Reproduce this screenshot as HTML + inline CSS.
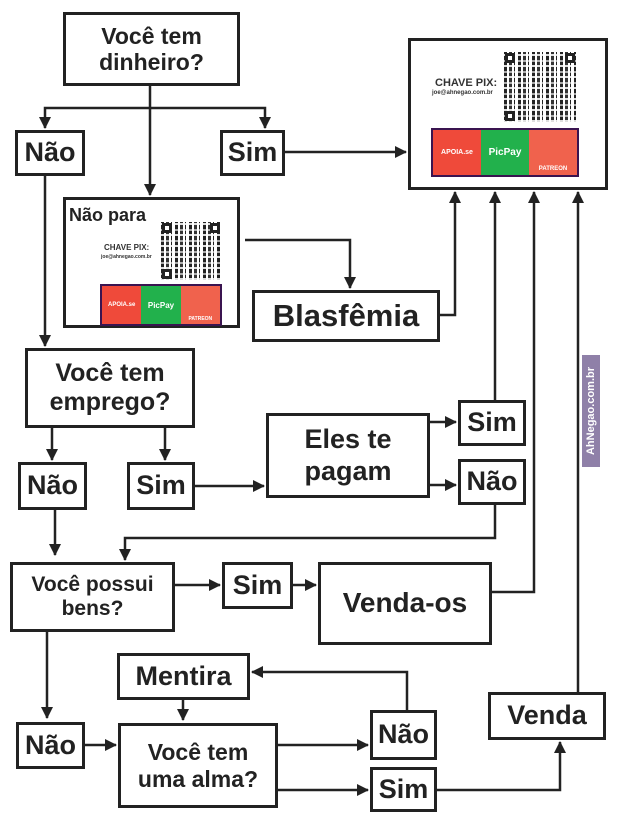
<!DOCTYPE html>
<html><head><meta charset="utf-8"><style>
body{margin:0;width:620px;height:822px;background:#fff;position:relative;overflow:hidden;font-family:"Liberation Sans",Arial,sans-serif;}
.b{position:absolute;border:3px solid #222;box-sizing:border-box;display:flex;align-items:center;justify-content:center;text-align:center;font-weight:bold;color:#222;line-height:1.15;}
svg{position:absolute;left:0;top:0;}
.pay{position:absolute;display:flex;border:2px solid #3a1450;box-sizing:border-box;}
.pay div{flex:1;display:flex;align-items:center;justify-content:center;color:#fff;font-weight:bold;}
.qr{position:absolute;background:
repeating-linear-gradient(0deg,rgba(255,255,255,.85) 0 2px,transparent 2px 5px,rgba(255,255,255,.6) 5px 7px,transparent 7px 11px),
repeating-linear-gradient(90deg,#222 0 3px,#fff 3px 5px,#333 5px 8px,#fff 8px 10px,#222 10px 11px,#fff 11px 14px);}
.qr i{position:absolute;width:10px;height:10px;border:3px solid #222;background:#fff;box-sizing:border-box;}
</style></head><body>
<svg width="620" height="822">
<defs><marker id="m" markerWidth="12" markerHeight="12" refX="11" refY="6" orient="auto" markerUnits="userSpaceOnUse"><path d="M0,0L12,6L0,12z" fill="#222"/></marker></defs>
<g stroke="#222" stroke-width="2.5" fill="none" marker-end="url(#m)">
<path d="M150 86V108H45V128"/><path d="M150 108H265V128"/><path d="M150 108V195"/>
<path d="M285 152H406"/>
<path d="M245 240H350V288"/>
<path d="M440 315H455V192"/>
<path d="M495 400V192"/>
<path d="M492 592H534V192"/>
<path d="M578 692V192"/>
<path d="M45 176V346"/>
<path d="M52 428V460"/><path d="M165 428V460"/>
<path d="M195 486H264"/>
<path d="M430 422H456"/><path d="M430 485H456"/>
<path d="M495 505V538H125V560"/>
<path d="M55 510V555"/>
<path d="M175 585H220"/><path d="M293 585H316"/>
<path d="M47 632V718"/>
<path d="M85 745H116"/>
<path d="M183 700V720"/>
<path d="M278 745H368"/><path d="M278 790H368"/>
<path d="M407 710V672H252"/>
<path d="M437 790H560V742"/>
</g></svg>

<div class="b" style="left:63px;top:12px;width:177px;height:74px;font-size:23px">Você tem<br>dinheiro?</div>
<div class="b" style="left:15px;top:130px;width:70px;height:46px;font-size:27px">Não</div>
<div class="b" style="left:220px;top:130px;width:65px;height:46px;font-size:27px">Sim</div>

<div class="b" style="left:408px;top:38px;width:200px;height:152px"></div>
<div style="position:absolute;left:435px;top:77px;font:bold 11px 'Liberation Sans';color:#333">CHAVE PIX:</div>
<div style="position:absolute;left:432px;top:90px;font:bold 6px 'Liberation Sans';color:#333">joe@ahnegao.com.br</div>
<div class="qr" style="left:504px;top:52px;width:72px;height:70px"><i style="left:1px;top:1px"></i><i style="right:1px;top:1px"></i><i style="left:1px;bottom:1px"></i></div>
<div class="pay" style="left:431px;top:128px;width:148px;height:49px"><div style="background:#ef4a3a;font-size:7px">APOIA.se</div><div style="background:#22b14c;font-size:10px">PicPay</div><div style="background:#f0624d;font-size:6px;align-items:flex-end;padding-bottom:3px">PATREON</div></div>

<div class="b" style="left:63px;top:197px;width:177px;height:131px"></div>
<div style="position:absolute;left:69px;top:205px;font:bold 18px 'Liberation Sans';color:#222">Não para</div>
<div style="position:absolute;left:104px;top:243px;font:bold 8px 'Liberation Sans';color:#333">CHAVE PIX:</div>
<div style="position:absolute;left:101px;top:254px;font:bold 5px 'Liberation Sans';color:#333">joe@ahnegao.com.br</div>
<div class="qr" style="left:161px;top:222px;width:60px;height:58px"><i style="left:1px;top:1px"></i><i style="right:1px;top:1px"></i><i style="left:1px;bottom:1px"></i></div>
<div class="pay" style="left:100px;top:284px;width:122px;height:42px"><div style="background:#ef4a3a;font-size:6px">APOIA.se</div><div style="background:#22b14c;font-size:8px">PicPay</div><div style="background:#f0624d;font-size:5px;align-items:flex-end;padding-bottom:2px">PATREON</div></div>

<div class="b" style="left:252px;top:290px;width:188px;height:52px;font-size:31px">Blasfêmia</div>
<div class="b" style="left:25px;top:348px;width:170px;height:80px;font-size:25px">Você tem<br>emprego?</div>
<div class="b" style="left:18px;top:462px;width:69px;height:48px;font-size:27px">Não</div>
<div class="b" style="left:127px;top:462px;width:68px;height:48px;font-size:27px">Sim</div>
<div class="b" style="left:266px;top:413px;width:164px;height:85px;font-size:27px">Eles te<br>pagam</div>
<div class="b" style="left:458px;top:400px;width:68px;height:46px;font-size:27px">Sim</div>
<div class="b" style="left:458px;top:459px;width:68px;height:46px;font-size:27px">Não</div>
<div class="b" style="left:10px;top:562px;width:165px;height:70px;font-size:21px">Você possui<br>bens?</div>
<div class="b" style="left:222px;top:562px;width:71px;height:47px;font-size:27px">Sim</div>
<div class="b" style="left:318px;top:562px;width:174px;height:83px;font-size:28px">Venda-os</div>
<div class="b" style="left:117px;top:653px;width:133px;height:47px;font-size:27px">Mentira</div>
<div class="b" style="left:16px;top:722px;width:69px;height:47px;font-size:27px">Não</div>
<div class="b" style="left:118px;top:723px;width:160px;height:85px;font-size:23px">Você tem<br>uma alma?</div>
<div class="b" style="left:370px;top:710px;width:67px;height:50px;font-size:27px">Não</div>
<div class="b" style="left:370px;top:767px;width:67px;height:45px;font-size:27px">Sim</div>
<div class="b" style="left:488px;top:692px;width:118px;height:48px;font-size:27px">Venda</div>
<div style="position:absolute;left:582px;top:355px;width:18px;height:112px;background:#8f80a8;"><div style="position:absolute;left:9px;top:56px;transform:translate(-50%,-50%) rotate(-90deg);white-space:nowrap;color:#fff;font:bold 11px 'Liberation Sans'">AhNegao.com.br</div></div>
</body></html>
